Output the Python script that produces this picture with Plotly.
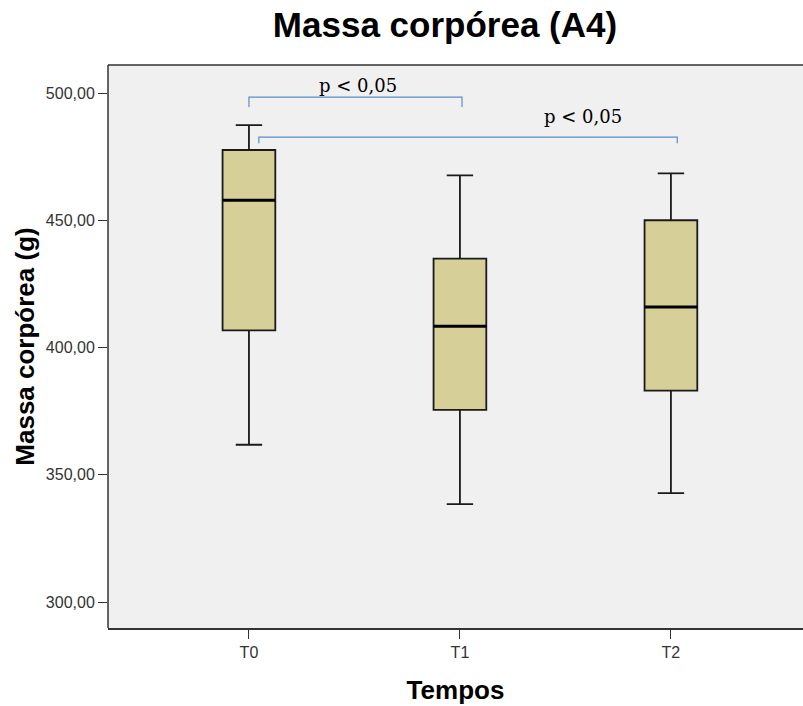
import plotly.graph_objects as go

categories = ["T0", "T1", "T2"]
positions = [0, 1, 2]
lower_whisker = [361.8, 338.5, 342.8]
q1 = [406.7, 375.5, 383.1]
median = [457.9, 408.4, 415.9]
q3 = [477.6, 434.9, 450.0]
upper_whisker = [487.4, 467.6, 468.4]

y_ticks = [300, 350, 400, 450, 500]
y_tick_labels = ["300,00", "350,00", "400,00", "450,00", "500,00"]

# significance brackets: (from category pos, to category pos, top y, foot y, label)
bracket_from = [0.0, 0.047]
bracket_to = [1.01, 2.03]
bracket_top = [498.4, 482.7]
bracket_foot = [494.5, 480.3]
bracket_label = ["p < 0,05", "p < 0,05"]
label_x = [0.517, 1.583]
label_y = [502.9, 490.6]

BOX_W = 0.25

fig = go.Figure()
fig.add_trace(go.Box(
    x=positions, q1=q1, median=median, q3=q3,
    lowerfence=lower_whisker, upperfence=upper_whisker,
    width=BOX_W, whiskerwidth=0.5,
    fillcolor="#d6cf98",
    line=dict(color="#1a1a1a", width=1.8),
    boxpoints=False, showlegend=False, hoverinfo="skip",
))

# thicker black median lines
for p, m in zip(positions, median):
    fig.add_trace(go.Scatter(
        x=[p - BOX_W / 2, p + BOX_W / 2], y=[m, m], mode="lines",
        line=dict(color="black", width=3), showlegend=False, hoverinfo="skip",
    ))

# frame: top border and left axis line
shapes = [
    dict(type="line", xref="paper", yref="paper", x0=0, x1=1, y0=1, y1=1,
         line=dict(color="#333333", width=1.5)),
    dict(type="line", xref="paper", yref="paper", x0=0, x1=0, y0=0, y1=1,
         line=dict(color="#333333", width=1.5)),
]
annotations = []
for a, b, t, f, lab, lx, ly in zip(bracket_from, bracket_to, bracket_top, bracket_foot,
                                   bracket_label, label_x, label_y):
    shapes.append(dict(type="path", xref="x", yref="y",
                       path=f"M {a},{f} L {a},{t} L {b},{t} L {b},{f}",
                       line=dict(color="#5b8ec6", width=1.2)))
    annotations.append(dict(x=lx, y=ly, xref="x", yref="y", text=lab, showarrow=False,
                            font=dict(family="DejaVu Serif", size=18, color="black")))

fig.update_layout(
    width=803, height=706,
    margin=dict(l=108, r=0, t=65, b=78),
    paper_bgcolor="white", plot_bgcolor="#f0f0f0",
    title=dict(text="<b>Massa corpórea (A4)</b>", x=445 / 803, xanchor="center",
               y=1 - 25 / 706, yanchor="middle",
               font=dict(family="Liberation Sans", size=35, color="black")),
    shapes=shapes, annotations=annotations,
    font=dict(family="Liberation Sans"),
)
fig.update_xaxes(
    range=[-0.668, 2.626], tickvals=positions, ticktext=categories,
    showgrid=False, zeroline=False, showline=True, linecolor="#333333", linewidth=1.5,
    mirror=False, ticks="outside", ticklen=9, tickcolor="#333333",
    tickfont=dict(size=16, color="#333333"),
    title=dict(text="<b>Tempos</b>", font=dict(size=26, color="black"), standoff=21),
)
fig.update_yaxes(
    range=[289.8, 511.0], tickvals=y_ticks, ticktext=y_tick_labels,
    showgrid=False, zeroline=False, showline=False,
    mirror=False, ticks="outside", ticklen=9, tickcolor="#333333",
    tickfont=dict(size=16, color="#333333"),
    title=dict(text="<b>Massa corpórea (g)</b>", font=dict(size=26, color="black"), standoff=3),
)

fig.write_html("out.html")
